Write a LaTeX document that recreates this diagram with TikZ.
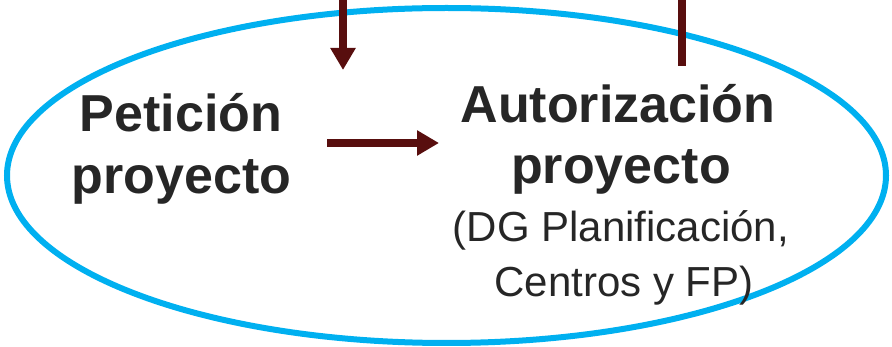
\documentclass[tikz,border=0pt]{standalone}
\usepackage{fontspec}
\setmainfont{Liberation Sans}
\usetikzlibrary{arrows.meta}
\definecolor{ringblue}{HTML}{00B0F0}
\definecolor{arrowred}{RGB}{88,14,14}
\definecolor{txt}{HTML}{262626}
\tikzset{
  bigtxt/.style={text=txt,font=\fontsize{52}{52}\selectfont\bfseries,inner sep=0pt,anchor=base},
  smalltxt/.style={text=txt,font=\fontsize{42}{42}\selectfont,inner sep=0pt,anchor=base},
  flowarrow/.style={draw=arrowred,line width=8pt,-{Triangle[length=22pt,width=24pt]}},
  flowline/.style={draw=arrowred,line width=8pt},
}
\begin{document}
\begin{tikzpicture}[x=1pt,y=-1pt]
\useasboundingbox (0,0) rectangle (892,347);
\draw[ringblue,line width=6pt] (446.5,175.5) ellipse [x radius=439.5, y radius=167.5];
\node[bigtxt] (pet1) at (181,132) {Petición};
\node[bigtxt] (pet2) at (181.5,194) {proyecto};
\node[bigtxt] (aut1) at (618,123) {Autorización};
\node[bigtxt] (aut2) at (621,184) {proyecto};
\node[smalltxt] (sub1) at (621,242) {(DG Planificación,};
\node[smalltxt] (sub2) at (624,297) {Centros y FP)};
\coordinate (inTop) at (343,-2);
\coordinate (inEnd) at (343,70);
\coordinate (outTop) at (682,-2);
\coordinate (outEnd) at (682,66);
\coordinate (midA) at (327,143);
\coordinate (midB) at (439,143);
\draw[flowarrow] (inTop) -- (inEnd);
\draw[flowline] (outEnd) -- (outTop);
\draw[flowarrow] (midA) -- (midB);
\end{tikzpicture}
\end{document}
